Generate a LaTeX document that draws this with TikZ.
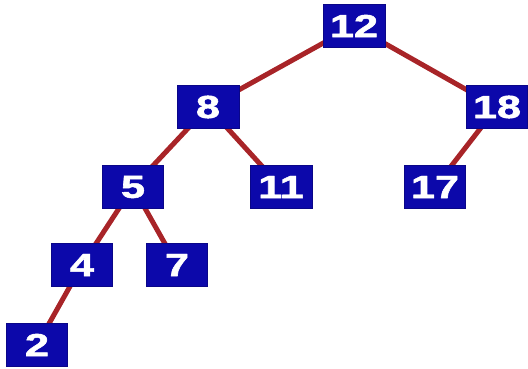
\documentclass[tikz,border=0pt]{standalone}
\usepackage{fontspec}
\usepackage{graphicx}
\setmainfont{Liberation Sans}[BoldFeatures={FakeBold=1.5}]
\usetikzlibrary{backgrounds}
\definecolor{boxblue}{RGB}{12,8,170}
\definecolor{edgered}{RGB}{168,36,40}
\newcommand{\keytext}[1]{\scalebox{1.35}[1]{#1}}
\begin{document}
\begin{tikzpicture}[x=1pt,y=1pt,
  keybox/.style={draw=boxblue!80!black,line width=0.8pt,fill=boxblue,text=white,
    minimum width=61pt,minimum height=43pt,inner sep=0pt,
    font=\fontsize{32}{32}\selectfont\bfseries},
  treeedge/.style={draw=edgered,line width=5pt}]
\useasboundingbox (0,0) rectangle (528,368);
\node[keybox,minimum width=62pt] (n12) at (354,342) {\keytext{12}};
\node[keybox,minimum width=62pt] (n8) at (208,261) {\keytext{8}};
\node[keybox] (n18) at (497,261) {\keytext{18}};
\node[keybox] (n5) at (133,181) {\keytext{5}};
\node[keybox,minimum width=62pt] (n11) at (281,181) {\keytext{11}};
\node[keybox] (n17) at (435,181) {\keytext{17}};
\node[keybox] (n4) at (82,103) {\keytext{4}};
\node[keybox] (n7) at (177,103) {\keytext{7}};
\node[keybox] (n2) at (37,23) {\keytext{2}};
\begin{scope}[on background layer]
\draw[treeedge] (n12.center) -- (n8.center);
\draw[treeedge] (n12.center) -- (n18.center);
\draw[treeedge] (n8.center) -- (n5.center);
\draw[treeedge] (n8.center) -- (n11.center);
\draw[treeedge] (n18.center) -- (n17.center);
\draw[treeedge] (n5.center) -- (n4.center);
\draw[treeedge] (n5.center) -- (n7.center);
\draw[treeedge] (n4.center) -- (n2.center);
\end{scope}
\end{tikzpicture}
\end{document}
